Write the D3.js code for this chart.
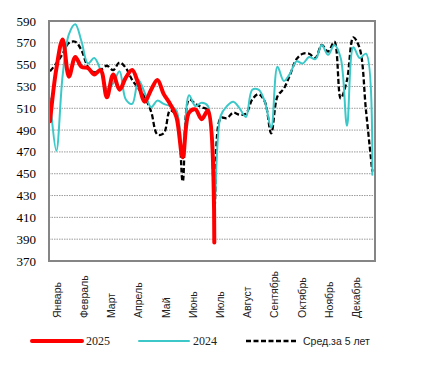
<!DOCTYPE html>
<html><head><meta charset="utf-8">
<script src="https://cdn.jsdelivr.net/npm/d3@7"></script>
<style>html,body{margin:0;padding:0;background:#fff;}svg{display:block;}</style>
</head><body>
<svg id="chart" width="423" height="367"></svg>
<script>
const months = ["Январь","Февраль","Март","Апрель","Май","Июнь","Июль","Август","Сентябрь","Октябрь","Ноябрь","Декабрь"];
const yTicks = [370,390,410,430,450,470,490,510,530,550,570,590];
const weeks = d3.range(1, 53);
const values2025 = [498,546,573,539,557,548,547,541,545,520,541,527,538,545,532,516,527,536,523,514,502,465,506,509,500,508,387];
const values2024 = [519,471,540,578,587,571,551,556,545,528,533,544,518,514,536,524,511,517,514,512,508,469,522,512,515,512,425,503,512,516,510,502,527,527,516,492,548,535,542,553,551,557,555,568,559,568,556,494,566,556,560,449];
const valuesAvg = [544,551,560,570,571,563,548,543,545,549,545,552,547,536,528,520,507,486,487,508,503,443,518,514,511,508,419,501,501,506,504,505,518,523,516,487,521,528,541,555,560,560,556,568,562,571,519,536,575,565,508,452];
const legendItems = [
  {name:"2025", key:"s2025"},
  {name:"2024", key:"s2024"},
  {name:"Сред.за 5 лет", key:"avg"}
];

const styles = {
  s2025:{stroke:"#ff0000", width:4, dash:null, font:"'Liberation Serif', serif", size:12},
  s2024:{stroke:"#3cc8c8", width:2, dash:null, font:"'Liberation Serif', serif", size:12},
  avg:{stroke:"#000000", width:2.3, dash:"5,2.5", font:"'Liberation Sans', sans-serif", size:10.5}
};

const svg = d3.select("#chart");
const plot = {left:49, right:375, top:21, bottom:261};

const x = d3.scaleLinear().domain([1,52]).range([50, 372.3]);
const y = d3.scaleLinear().domain([370,590]).range([plot.bottom, plot.top]);
const xm = d3.scaleBand().domain(months).range([43.5, 370]);

// gridlines
svg.append("g").selectAll("line").data(yTicks.filter(t => t > 370 && t < 590)).join("line")
  .attr("x1", plot.left).attr("x2", plot.right)
  .attr("y1", d => y(d)).attr("y2", d => y(d))
  .attr("stroke", "#9a9a9a").attr("stroke-width", 1).attr("stroke-dasharray", "1.5,1");

// y tick labels
svg.append("g").selectAll("text").data(yTicks).join("text")
  .attr("x", 36).attr("y", d => y(d)).attr("dy", "0.35em")
  .attr("text-anchor", "end")
  .attr("font-family", "'Liberation Serif', serif").attr("font-size", 13)
  .attr("fill", "#000").text(d => d);

// month labels
svg.append("g").selectAll("text").data(months).join("text")
  .attr("transform", d => `translate(${xm(d) + xm.bandwidth()/2},318) rotate(-90)`)
  .attr("dy", "0.35em").attr("text-anchor", "start")
  .attr("font-family", "'Liberation Sans', sans-serif").attr("font-size", 10.5)
  .attr("fill", "#222").text(d => d);

// clip
svg.append("clipPath").attr("id", "clip").append("rect")
  .attr("x", plot.left).attr("y", plot.top)
  .attr("width", plot.right - plot.left).attr("height", plot.bottom - plot.top);

const line = d3.line().x(d => x(d[0])).y(d => y(d[1])).curve(d3.curveCatmullRom.alpha(0.5));
const g = svg.append("g").attr("clip-path", "url(#clip)");

function drawSeries(vals, st) {
  const data = vals.map((v, i) => [weeks[i], v]);
  g.append("path").datum(data).attr("d", line)
    .attr("fill", "none").attr("stroke", st.stroke).attr("stroke-width", st.width)
    .attr("stroke-dasharray", st.dash).attr("stroke-linejoin", "round").attr("stroke-linecap", st.dash ? "butt" : "round");
}
drawSeries(valuesAvg, styles.avg);
drawSeries(values2024, styles.s2024);
drawSeries(values2025, styles.s2025);

// frame
svg.append("rect").attr("x", plot.left).attr("y", plot.top)
  .attr("width", plot.right - plot.left).attr("height", plot.bottom - plot.top)
  .attr("fill", "none").attr("stroke", "#858585").attr("stroke-width", 2);

// legend
const lg = svg.append("g");
const legendX = [32, 139, 246];
legendItems.forEach((it, i) => {
  const st = styles[it.key];
  lg.append("line").attr("x1", legendX[i]).attr("x2", legendX[i] + 50)
    .attr("y1", 341).attr("y2", 341)
    .attr("stroke", st.stroke).attr("stroke-width", st.width)
    .attr("stroke-dasharray", st.dash).attr("stroke-linecap", st.dash ? "butt" : "round");
  lg.append("text").attr("x", legendX[i] + 54 + (st.dash ? 3 : 0)).attr("y", 341).attr("dy", "0.35em")
    .attr("font-family", st.font).attr("font-size", st.size)
    .attr("fill", "#222").text(it.name);
});
</script>
</body></html>
